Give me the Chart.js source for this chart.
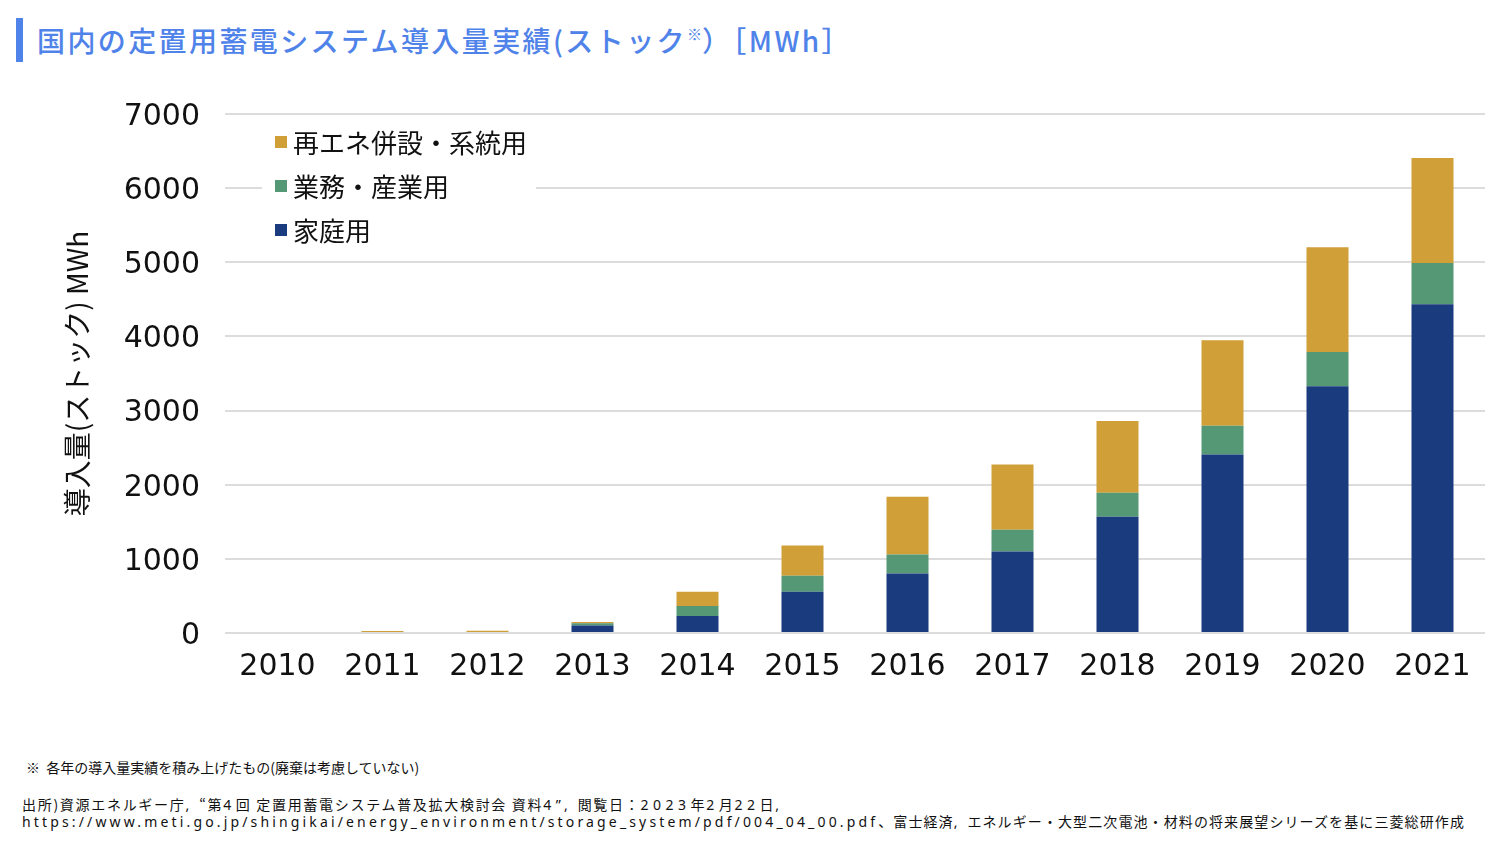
<!DOCTYPE html>
<html lang="ja">
<head>
<meta charset="utf-8">
<script src="https://cdn.jsdelivr.net/npm/chart.js@4/dist/chart.umd.min.js"></script>
<style>
  html, body { margin: 0; padding: 0; background: #fff; }
  body { width: 1498px; height: 850px; position: relative; overflow: hidden; font-family: "Noto Sans CJK JP", "Noto Sans", sans-serif; }
  #titlebar { position: absolute; left: 16px; top: 18px; width: 7px; height: 44px; background: #5083e9; }
  #title { position: absolute; left: 37px; top: 20px; font-size: 28px; font-weight: 500; color: #5083e9; white-space: nowrap; line-height: 40px; letter-spacing: 2.4px; }
  #title sup { font-size: 15px; vertical-align: 0; position: relative; top: -12px; letter-spacing: 0; }
  #wrap { position: absolute; left: 0; top: 0; width: 1498px; height: 705px; }
  .note { position: absolute; left: 22px; font-size: 14px; color: #111; white-space: nowrap; line-height: 17px; }
  .src { letter-spacing: 1.1px; }
  .src1 { letter-spacing: 1.7px; }
  .lat { letter-spacing: 3.15px; font-family: "Noto Sans", sans-serif; }
  .dig { letter-spacing: 4.5px; font-family: "Noto Sans", sans-serif; }
</style>
</head>
<body>
<div id="titlebar"></div>
<div id="title">国内の定置用蓄電システム導入量実績(ストック<sup>※</sup>）［MWh］</div>
<div id="wrap"><canvas id="c" width="1498" height="705"></canvas></div>
<div class="note" style="top:759px; left:26px;">※&nbsp; 各年の導入量実績を積み上げたもの(廃棄は考慮していない)</div>
<div class="note src1" style="top:796px;">出所)資源エネルギー庁<span class="lat">, </span>“第<span class="dig">4</span>回 定置用蓄電システム普及拡大検討会 資料<span class="dig">4</span><span class="lat">”, </span>閲覧日：<span class="dig">2023</span>年<span class="dig">2</span>月<span class="dig">22</span>日<span class="lat">,</span></div>
<div class="note src" style="top:813px;"><span class="lat">https://www.meti.go.jp/shingikai/energy_environment/storage_system/pdf/004_04_00.pdf</span>、富士経済<span class="lat">, </span>エネルギー・大型二次電池・材料の将来展望シリーズを基に三菱総研作成</div>
<script>
const years = ["2010","2011","2012","2013","2014","2015","2016","2017","2018","2019","2020","2021"];
const homeValues     = [0, 0, 0, 100, 230, 557, 803, 1100, 1567, 2407, 3329, 4434];
const businessValues = [0, 0, 0, 30, 135, 215, 256, 292, 324, 387, 462, 557];
const renewableValues= [0, 26, 30, 20, 190, 409, 778, 880, 970, 1155, 1411, 1415];
const seriesLabels = ["家庭用", "業務・産業用", "再エネ併設・系統用"];
const seriesColors = ["#1a3b7e", "#559876", "#d19f37"];
const yTicks = [0, 1000, 2000, 3000, 4000, 5000, 6000, 7000];
const yTitle = "導入量(ストック) MWh";

const legendPlugin = {
  id: "insideLegend",
  afterDraw(chart) {
    const ctx = chart.ctx;
    ctx.save();
    ctx.fillStyle = "#ffffff";
    ctx.fillRect(262, 122, 274, 128);
    const rows = [142, 186, 230];
    const ds = chart.data.datasets.slice().reverse();
    ctx.font = "26px 'Noto Sans CJK JP'";
    ctx.textBaseline = "middle";
    ds.forEach((d, i) => {
      ctx.fillStyle = d.backgroundColor;
      ctx.fillRect(275, rows[i] - 6, 12, 12);
      ctx.fillStyle = "#111111";
      ctx.fillText(d.label, 293, rows[i] + 1);
    });
    ctx.restore();
  }
};

const dataArrays = [homeValues, businessValues, renewableValues];
new Chart(document.getElementById("c"), {
  type: "bar",
  data: {
    labels: years,
    datasets: dataArrays.map((arr, i) => ({
      label: seriesLabels[i],
      data: arr,
      backgroundColor: seriesColors[i],
      borderWidth: 0,
      barPercentage: 0.4,
      categoryPercentage: 1.0
    }))
  },
  options: {
    responsive: false,
    animation: false,
    devicePixelRatio: 1,
    layout: { padding: { top: 114, right: 13, left: 0, bottom: 0 } },
    plugins: { legend: { display: false }, tooltip: { enabled: false }, title: { display: false } },
    scales: {
      x: {
        stacked: true,
        grid: { display: false, drawTicks: false },
        border: { display: false },
        ticks: { color: "#111", font: { family: "DejaVu Sans", size: 30 }, padding: 16, maxRotation: 0 },
        afterFit(s) { s.height = 72; }
      },
      y: {
        stacked: true,
        min: 0, max: 7000,
        afterBuildTicks(s) { s.ticks = yTicks.map(v => ({ value: v })); },
        grid: { color: "#dcdcdc", lineWidth: 2, drawTicks: false },
        border: { display: false },
        ticks: { color: "#111", font: { family: "DejaVu Sans", size: 30 }, padding: 25, labelOffset: 3, callback: v => String(v) },
        title: { display: true, text: yTitle, color: "#111", font: { family: "Noto Sans CJK JP", size: 28 }, padding: { top: 61, bottom: 0 } },
        afterFit(s) { s.width = 225; }
      }
    }
  },
  plugins: [legendPlugin]
});
</script>
</body>
</html>
